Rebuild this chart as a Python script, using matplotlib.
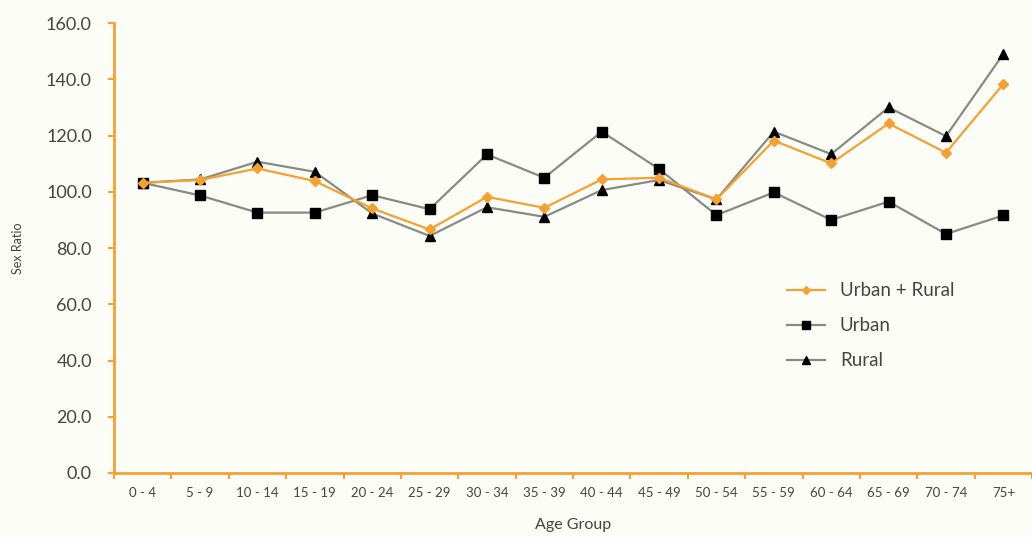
import numpy as np
import matplotlib.pyplot as plt
from matplotlib.ticker import FixedLocator

age_groups = ['0 - 4', '5 - 9', '10 - 14', '15 - 19', '20 - 24', '25 - 29', '30 - 34',
              '35 - 39', '40 - 44', '45 - 49', '50 - 54', '55 - 59', '60 - 64',
              '65 - 69', '70 - 74', '75+']
urban_rural = [103.2, 104.2, 108.3, 103.8, 94.1, 86.6, 98.2, 94.3, 104.4, 105.0,
               97.3, 118.2, 110.1, 124.3, 113.9, 138.3]
urban = [103.2, 98.7, 92.6, 92.6, 98.8, 93.8, 113.3, 105.0, 121.4, 108.1,
         91.7, 99.8, 90.0, 96.5, 85.0, 91.6]
rural = [103.2, 104.4, 110.7, 107.1, 92.3, 84.3, 94.5, 91.1, 100.6, 104.2,
         97.3, 121.4, 113.4, 130.0, 119.8, 149.0]

plt.rcParams['font.family'] = ['Lato', 'DejaVu Sans']

orange = '#f5a030'
grey_line = '#868b84'
text_col = '#444444'
bg = '#fdfdf7'

fig = plt.figure(figsize=(10.32, 5.37), dpi=100, facecolor=bg)
ax = fig.add_axes([0.1105, 0.1192, 0.8895, 0.8378], facecolor=bg)

x = np.arange(len(age_groups))
ax.plot(x, urban, color=grey_line, lw=1.6, marker='s', markersize=7.5,
        markerfacecolor='black', markeredgecolor='black', label='Urban', zorder=3)
ax.plot(x, rural, color=grey_line, lw=1.6, marker='^', markersize=7.5,
        markerfacecolor='black', markeredgecolor='black', label='Rural', zorder=3)
ax.plot(x, urban_rural, color=orange, lw=1.6, marker='D', markersize=5.5,
        markerfacecolor=orange, markeredgecolor=orange, label='Urban + Rural', zorder=4)

ax.set_xlim(-0.5, len(age_groups) - 0.5)
ax.set_ylim(0, 160)
ax.set_yticks(np.arange(0, 161, 20))
ax.set_yticklabels([f'{v:.1f}' for v in np.arange(0, 161, 20)])
ax.set_xticks(x)
ax.set_xticklabels(age_groups)
ax.xaxis.set_minor_locator(FixedLocator(np.arange(-0.5, len(age_groups), 1.0)))

for side in ['top', 'right']:
    ax.spines[side].set_visible(False)
for side in ['left', 'bottom']:
    ax.spines[side].set_color(orange)
    ax.spines[side].set_linewidth(2)

ax.tick_params(axis='y', colors=orange, length=4, width=1.5, labelsize=13,
               labelcolor=text_col, pad=12)
ax.tick_params(axis='x', which='major', length=0, labelsize=9.5,
               labelcolor=text_col, pad=10)
ax.tick_params(axis='x', which='minor', colors=orange, length=4, width=1.5)

ax.set_ylabel('Sex Ratio', fontsize=9, color=text_col, labelpad=16)
ax.set_xlabel('Age Group', fontsize=11.5, color=text_col, labelpad=14)

handles, labels = ax.get_legend_handles_labels()
order = [2, 0, 1]
ax.legend([handles[i] for i in order], [labels[i] for i in order],
          loc='upper left', bbox_to_anchor=(0.715, 0.461), frameon=False,
          fontsize=13.5, labelspacing=0.95, handlelength=2.0, markerscale=0.75,
          labelcolor=text_col)

fig.savefig('out.png', dpi=100, facecolor=bg)
